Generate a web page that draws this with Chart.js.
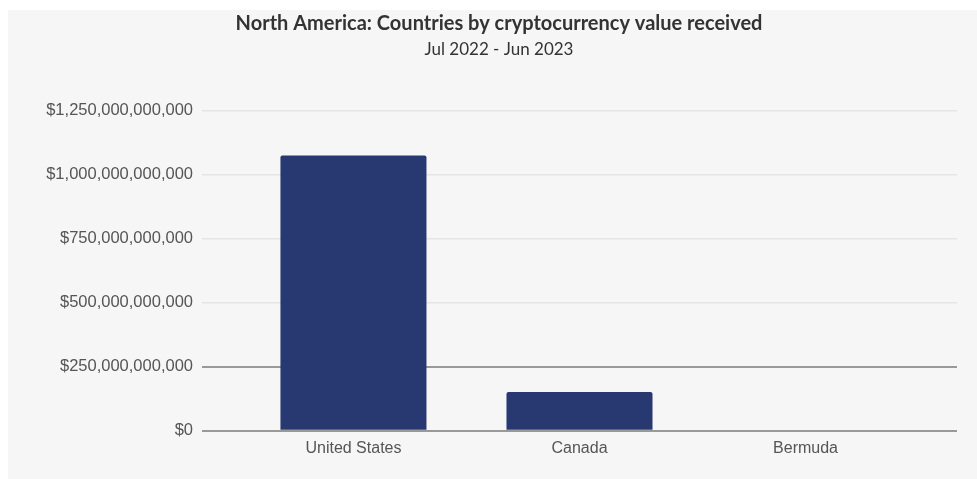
<!DOCTYPE html>
<html>
<head>
<meta charset="utf-8">
<script src="https://cdn.jsdelivr.net/npm/chart.js@4/dist/chart.umd.min.js"></script>
<style>
  html, body { margin: 0; padding: 0; background: #ffffff; }
  #wrap { position: absolute; left: 8px; top: 10px; width: 969px; height: 469px; background: #f6f6f6; }
  canvas { display: block; }
</style>
</head>
<body>
<div id="wrap"><canvas id="c" width="969" height="469"></canvas></div>
<script>
const titleText = "North America: Countries by cryptocurrency value received";
const subtitleText = "Jul 2022 - Jun 2023";
const categories = ["United States", "Canada", "Bermuda"];
const valuesReceived = [1074000000000, 151000000000, 0];
const yTickValues = [0, 250000000000, 500000000000, 750000000000, 1000000000000, 1250000000000];

const fmt = v => "$" + Math.round(v).toLocaleString("en-US");

new Chart(document.getElementById("c"), {
  type: "bar",
  data: {
    datasets: [{
      data: categories.map((c, i) => ({ x: i, y: valuesReceived[i] })),
      backgroundColor: "#283870",
      borderRadius: 2,
      borderSkipped: "bottom",
      categoryPercentage: 1,
      barPercentage: 0.646
    }]
  },
  options: {
    responsive: false,
    animation: false,
    layout: { padding: { left: 33, right: 20, top: 0, bottom: 13 } },
    plugins: {
      legend: { display: false },
      tooltip: { enabled: false },
      title: {
        display: true,
        text: titleText,
        color: "#333333",
        font: { family: "Lato", size: 20, weight: "bold" },
        padding: { top: 2, bottom: 3 }
      },
      subtitle: {
        display: true,
        text: subtitleText,
        color: "#333333",
        font: { family: "Lato", size: 17 },
        padding: { top: 0, bottom: 51 }
      }
    },
    scales: {
      x: {
        type: "linear",
        offset: false,
        min: -0.67,
        max: 2.67,
        afterBuildTicks: s => { s.ticks = categories.map((c, i) => ({ value: i })); },
        ticks: {
          callback: v => categories[v] ?? "",
          color: "#555555",
          font: { family: "Liberation Sans", size: 16 },
          padding: 8,
          maxRotation: 0
        },
        grid: { display: false, drawTicks: false },
        border: { display: false }
      },
      y: {
        min: 0,
        max: 1250000000000,
        afterFit: s => { s.width = 161; },
        afterBuildTicks: s => { s.ticks = yTickValues.map(v => ({ value: v })); },
        ticks: {
          callback: v => fmt(v),
          color: "#555555",
          font: { family: "Liberation Sans", size: 16.5 },
          padding: 9
        },
        grid: {
          drawTicks: false,
          color: ctx => (ctx.tick && ctx.tick.value <= 250000000000) ? "#999999" : "#e4e4e4",
          lineWidth: ctx => (ctx.tick && ctx.tick.value <= 250000000000) ? 2 : 1.5
        },
        border: { display: false }
      }
    }
  }
});
</script>
</body>
</html>
